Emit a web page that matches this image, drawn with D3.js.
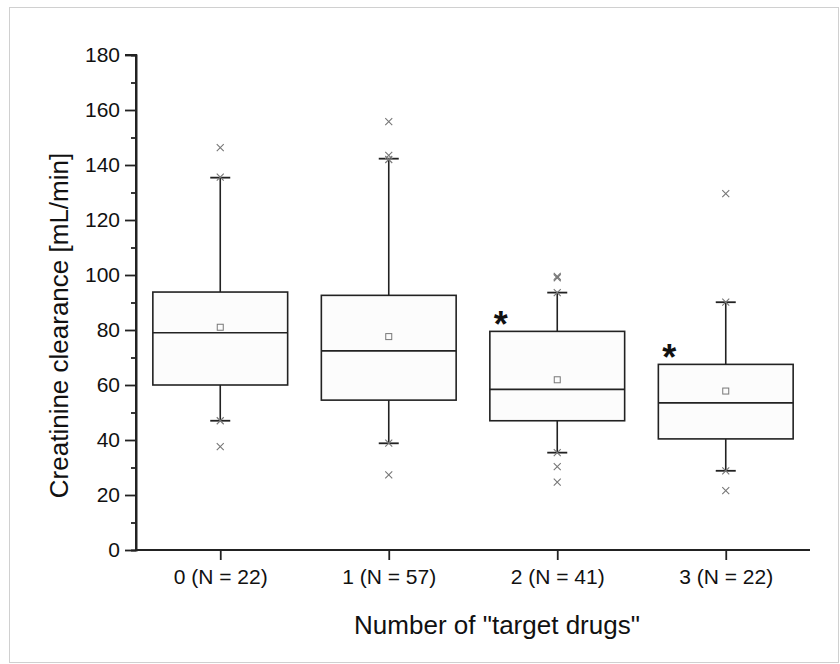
<!DOCTYPE html>
<html>
<head>
<meta charset="utf-8">
<script src="https://cdn.jsdelivr.net/npm/d3@7"></script>
<style>
  body { margin: 0; background: #fff; }
  text { font-family: "Liberation Sans", Arial, sans-serif; fill: #111; }
</style>
</head>
<body>
<div id="container"></div>
<script>
// values
const categories = ["0 (N = 22)", "1 (N = 57)", "2 (N = 41)", "3 (N = 22)"]
const q1 = [60.0, 54.5, 47.0, 40.4]
const median = [79.0, 72.4, 58.4, 53.5]
const q3 = [93.8, 92.6, 79.5, 67.5]
const means = [81.0, 77.6, 61.9, 57.8]
const whiskerLow = [47.0, 38.8, 35.4, 28.8]
const whiskerHigh = [135.4, 142.3, 93.6, 90.1]
const outliers = [
    [146.3, 135.6, 47.0, 37.6],
    [155.8, 143.5, 142.0, 38.9, 27.3],
    [99.5, 99.0, 93.6, 35.4, 30.3, 24.7],
    [129.6, 90.1, 28.8, 21.6]
]
const significant = [false, false, true, true]
const yTicks = [0, 20, 40, 60, 80, 100, 120, 140, 160, 180]

const width = 840
const height = 664
const plotLeft = 136, plotRight = 810, plotTop = 55, plotBottom = 550

const svg = d3.select('#container').append('svg')
    .attr('width', width)
    .attr('height', height)

// light frame
svg.append('rect')
    .attr('x', 9.5).attr('y', 7.5)
    .attr('width', 829).attr('height', 655)
    .attr('fill', 'none')
    .attr('stroke', '#d0d0d0')

const xScale = d3.scalePoint()
    .domain(categories)
    .range([plotLeft, plotRight])
    .padding(0.5)

const yScale = d3.scaleLinear()
    .domain([0, 180])
    .range([plotBottom, plotTop])

const boxW = xScale.step() * 0.8
const capW = 20

const data = categories.map((c, i) => ({
    cat: c, q1: q1[i], med: median[i], q3: q3[i], mean: means[i],
    lo: whiskerLow[i], hi: whiskerHigh[i], out: outliers[i], sig: significant[i]
}))

// axes
const yAxis = d3.axisLeft(yScale).tickValues(yTicks).tickSize(11).tickPadding(5)
const yMinor = d3.axisLeft(yScale).tickValues(yTicks.slice(0, -1).map(t => t + 10)).tickSize(5).tickFormat('')
const xAxis = d3.axisBottom(xScale).tickSize(10).tickPadding(9)

const gy = svg.append('g').attr('transform', `translate(${plotLeft},0)`).call(yAxis)
svg.append('g').attr('transform', `translate(${plotLeft},0)`).call(yMinor)
const gx = svg.append('g').attr('transform', `translate(0,${plotBottom})`).call(xAxis)

svg.selectAll('.domain').attr('stroke', '#222').attr('stroke-width', 2)
svg.selectAll('.tick line').attr('stroke', '#222').attr('stroke-width', 1.8)
svg.selectAll('.tick text').attr('font-size', 21).attr('fill', '#111')

// x domain line across the full width
gx.select('.domain').attr('d', `M${plotLeft},0H${plotRight}`)
gy.select('.domain').attr('d', `M-11,${plotTop}H0V${plotBottom}`)

// axis titles
svg.append('text')
    .attr('transform', `translate(68,${(plotTop + plotBottom) / 2 + 23}) rotate(-90)`)
    .attr('text-anchor', 'middle')
    .attr('font-size', 26)
    .text('Creatinine clearance [mL/min]')

svg.append('text')
    .attr('x', (plotLeft + plotRight) / 2 + 24)
    .attr('y', 634)
    .attr('text-anchor', 'middle')
    .attr('font-size', 26)
    .text('Number of "target drugs"')

const g = svg.selectAll('.box')
    .data(data)
    .enter()
    .append('g')
    .attr('class', 'box')

// whiskers
g.append('line')
    .attr('x1', d => xScale(d.cat)).attr('x2', d => xScale(d.cat))
    .attr('y1', d => yScale(d.hi)).attr('y2', d => yScale(d.q3))
    .attr('stroke', '#222').attr('stroke-width', 1.6)
g.append('line')
    .attr('x1', d => xScale(d.cat)).attr('x2', d => xScale(d.cat))
    .attr('y1', d => yScale(d.q1)).attr('y2', d => yScale(d.lo))
    .attr('stroke', '#222').attr('stroke-width', 1.6)
g.append('line')
    .attr('x1', d => xScale(d.cat) - capW / 2).attr('x2', d => xScale(d.cat) + capW / 2)
    .attr('y1', d => yScale(d.hi)).attr('y2', d => yScale(d.hi))
    .attr('stroke', '#222').attr('stroke-width', 1.8)
g.append('line')
    .attr('x1', d => xScale(d.cat) - capW / 2).attr('x2', d => xScale(d.cat) + capW / 2)
    .attr('y1', d => yScale(d.lo)).attr('y2', d => yScale(d.lo))
    .attr('stroke', '#222').attr('stroke-width', 1.8)

// box
g.append('rect')
    .attr('x', d => xScale(d.cat) - boxW / 2)
    .attr('y', d => yScale(d.q3))
    .attr('width', boxW)
    .attr('height', d => yScale(d.q1) - yScale(d.q3))
    .attr('fill', '#fcfcfc')
    .attr('stroke', '#222').attr('stroke-width', 1.6)

// median
g.append('line')
    .attr('x1', d => xScale(d.cat) - boxW / 2).attr('x2', d => xScale(d.cat) + boxW / 2)
    .attr('y1', d => yScale(d.med)).attr('y2', d => yScale(d.med))
    .attr('stroke', '#222').attr('stroke-width', 1.6)

// mean square
g.append('rect')
    .attr('x', d => xScale(d.cat) - 3)
    .attr('y', d => yScale(d.mean) - 3)
    .attr('width', 6).attr('height', 6)
    .attr('fill', 'none')
    .attr('stroke', '#777').attr('stroke-width', 1)

// outliers / extremes as x marks
g.each(function(d) {
    d3.select(this).selectAll('.out')
        .data(d.out)
        .enter()
        .append('path')
        .attr('class', 'out')
        .attr('d', v => {
            const cx = xScale(d.cat), cy = yScale(v), s = 3.5
            return `M${cx - s},${cy - s}L${cx + s},${cy + s}M${cx - s},${cy + s}L${cx + s},${cy - s}`
        })
        .attr('stroke', '#777').attr('stroke-width', 1.1)
})

// significance stars
g.filter(d => d.sig)
    .append('text')
    .attr('x', d => xScale(d.cat) - boxW / 2 + 11)
    .attr('y', d => yScale(d.q3) + 6)
    .attr('text-anchor', 'middle')
    .attr('font-size', 36)
    .attr('font-weight', 'bold')
    .text('*')
</script>
</body>
</html>
